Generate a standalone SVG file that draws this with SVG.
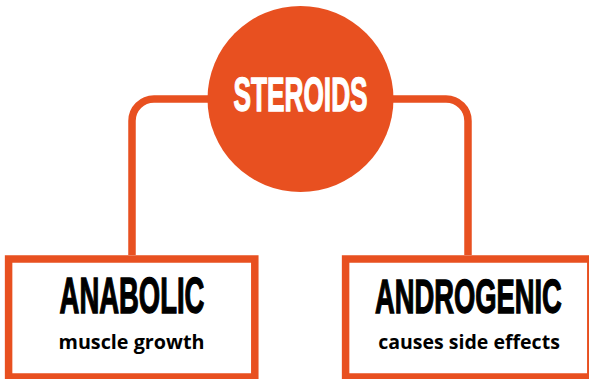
<svg xmlns="http://www.w3.org/2000/svg" width="589" height="379" viewBox="0 0 589 379">
<style>
.conn{fill:none;stroke:#E85020;stroke-width:7.5}
.box{fill:#fff;stroke:#E85020;stroke-width:7.5}
.title{font-family:"Liberation Sans",Arial,sans-serif;font-weight:bold;font-size:49px;text-anchor:middle;fill:#000;stroke:#000;stroke-width:1.4}
.sub{font-family:"Open Sans","Liberation Sans",sans-serif;font-weight:700;font-size:19px;text-anchor:middle;fill:#000}
</style>
<rect width="589" height="379" fill="#fff"/>
<g id="connectors">
<path class="conn" d="M132,255 V121 A22,22 0 0 1 154,99 H215"/>
<path class="conn" d="M468,255 V121 A22,22 0 0 0 446,99 H385"/>
</g>
<g id="steroids">
<circle cx="300.5" cy="99" r="93" fill="#E85020"/>
<text transform="translate(300.5,111.3) scale(0.536,1)" class="title" style="fill:#fff;stroke:#fff">STEROIDS</text>
</g>
<g id="anabolic">
<rect class="box" x="8.6" y="259" width="246.2" height="118"/>
<text transform="translate(132,312.8) scale(0.56,1)" class="title">ANABOLIC</text>
<text x="131.5" y="349.3" class="sub" textLength="146" lengthAdjust="spacingAndGlyphs">muscle growth</text>
</g>
<g id="androgenic">
<rect class="box" x="345.6" y="259" width="245.2" height="118"/>
<text transform="translate(468.4,312.8) scale(0.558,1)" class="title">ANDROGENIC</text>
<text x="469" y="349.3" class="sub" textLength="181.7" lengthAdjust="spacingAndGlyphs">causes side effects</text>
</g>
</svg>
